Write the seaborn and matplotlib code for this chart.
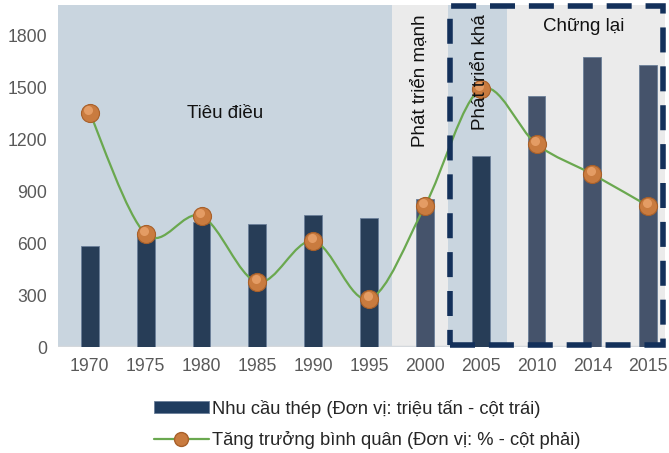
import numpy as np
import pandas as pd
import matplotlib
matplotlib.use("Agg")
import matplotlib.pyplot as plt
import seaborn as sns
from matplotlib.path import Path
from matplotlib.patches import PathPatch, Rectangle, Patch
from matplotlib.lines import Line2D
import matplotlib.transforms as mtransforms

years = ["1970", "1975", "1980", "1985", "1990", "1995", "2000", "2005", "2010", "2014", "2015"]
demand = [585, 645, 720, 710, 765, 745, 855, 1105, 1450, 1675, 1630]
# growth series, read against the left scale (right scale has no labels)
growth = [1350, 652, 756, 375, 612, 277, 814, 1489, 1171, 998, 814]
phase_labels = ["Tiêu điều", "Phát triển mạnh", "Phát triển khá", "Chững lại"]

sns.set_theme(style="white")
plt.rcParams["font.family"] = ["Liberation Sans", "DejaVu Sans"]

fig = plt.figure(figsize=(6.69, 4.53), dpi=100)
ax = fig.add_axes([58 / 669, 1 - 347 / 453, 607 / 669, 342 / 453])

df = pd.DataFrame({"year": years, "demand": demand})
bar_colors = ["#1f3c5f" if i <= 5 or i == 7 else "#3f5271" for i in range(len(years))]
sns.barplot(data=df, x="year", y="demand", hue="year", palette=bar_colors, legend=False,
            width=0.32, ax=ax, zorder=2, edgecolor="#6b7f99", linewidth=0.6)

xmin, xmax = -0.57, 10.3
ax.set_xlim(xmin, xmax)
ax.set_ylim(0, 1975)

# background phases
blue_bg, grey_bg = "#c9d5df", "#ebebeb"
bands = [(xmin, 5.41, blue_bg), (5.41, 6.42, grey_bg), (6.42, 7.47, blue_bg), (7.47, xmax, grey_bg)]
for x0, x1, c in bands:
    ax.axvspan(x0, x1, color=c, lw=0, zorder=0)

# bottom axis line
ax.axhline(0, color="#d4d8dc", lw=2.5, zorder=1)

# smoothed growth line (Bezier, Excel-style)
pts = np.column_stack([np.arange(len(growth)), growth]).astype(float)
verts = [pts[0]]
codes = [Path.MOVETO]
n = len(pts)
for i in range(n - 1):
    p0 = pts[max(i - 1, 0)]
    p1 = pts[i]
    p2 = pts[i + 1]
    p3 = pts[min(i + 2, n - 1)]
    verts += [p1 + (p2 - p0) / 6, p2 - (p3 - p1) / 6, p2]
    codes += [Path.CURVE4] * 3
ax.add_patch(PathPatch(Path(verts, codes), fill=False, edgecolor="#6aa84f", lw=1.6, zorder=3))

# sphere-like markers
ax.plot(range(n), growth, ls="none", marker="o", ms=13, mfc="#c97b3f", mec="#a8602a",
        mew=0.8, zorder=4)
hl = mtransforms.offset_copy(ax.transData, fig=fig, x=-1.0, y=2.0, units="points")
ax.plot(range(n), growth, ls="none", marker="o", ms=6.5, mfc="#eca56e", mec="none",
        alpha=0.8, zorder=5, transform=hl)

# dashed box
ax.add_patch(Rectangle((6.45, 12), 10.26 - 6.45, 1960, fill=False, edgecolor="#13305a",
                       lw=4, ls=(0, (4.5, 2.5)), zorder=6, clip_on=False))

# phase labels
ax.text(2.43, 1350, phase_labels[0], fontsize=13.5, ha="center", va="center", color="#111111", zorder=7)
ax.text(5.91, 1920, phase_labels[1], fontsize=13.5, rotation=90, ha="center", va="top",
        color="#111111", zorder=7)
ax.text(7.0, 1920, phase_labels[2], fontsize=13.5, rotation=90, ha="center", va="top",
        color="#111111", zorder=7)
ax.text(8.84, 1850, phase_labels[3], fontsize=13.5, ha="center", va="center", color="#111111", zorder=7)

ax.set_yticks(np.arange(0, 1801, 300))
ax.tick_params(axis="both", labelsize=12.7, labelcolor="#595959", length=0, pad=8)
ax.set_xlabel("")
ax.set_ylabel("")
for s in ax.spines.values():
    s.set_visible(False)

handles = [
    Patch(facecolor="#1f3c5f", edgecolor="#6b7f99", lw=0.6),
    Line2D([0], [0], color="#6aa84f", lw=1.6, marker="o", ms=10, mfc="#c97b3f", mec="#a8602a"),
]
labels = ["Nhu cầu thép (Đơn vị: triệu tấn - cột trái)", "Tăng trưởng bình quân (Đơn vị: % - cột phải)"]
fig.legend(handles, labels, loc="upper left", bbox_to_anchor=(137 / 669, 1 - 383 / 453),
           frameon=False, fontsize=13.2, handlelength=3.0, handleheight=0.55, labelspacing=0.75,
           handletextpad=0.2, labelcolor="#262626")

fig.savefig("out.png", dpi=100)
